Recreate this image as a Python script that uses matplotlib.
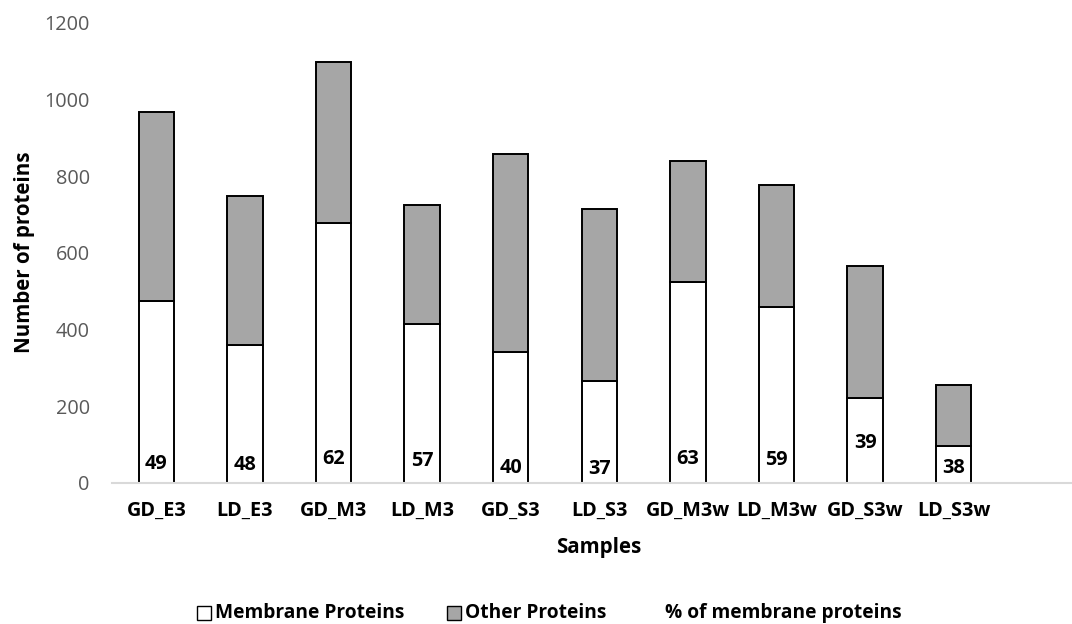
import matplotlib
matplotlib.use("Agg")
import matplotlib.pyplot as plt
from matplotlib.patches import Rectangle
import numpy as np

# Protein counts per sample
samples = ["GD_E3", "LD_E3", "GD_M3", "LD_M3", "GD_S3",
           "LD_S3", "GD_M3w", "LD_M3w", "GD_S3w", "LD_S3w"]
membrane = [474, 360, 679, 414, 341, 265, 525, 459, 223, 97]
other = [493, 388, 418, 312, 518, 450, 314, 318, 344, 158]
pct_membrane = [49, 48, 62, 57, 40, 37, 63, 59, 39, 38]
y_ticks = [0, 200, 400, 600, 800, 1000, 1200]

plt.rcParams["font.family"] = ["Open Sans", "DejaVu Sans"]
FS = 14.3

W, H = 1072, 624
fig = plt.figure(figsize=(W / 100, H / 100), dpi=100)

# plot area: 11 category slots, the last one left empty
slot = 88.6
left_px, base_px, top_px = 112, 483, 23
ax = fig.add_axes([left_px / W, 1 - base_px / H,
                   11 * slot / W, (base_px - top_px) / H])

x = np.arange(len(samples))
bw = 0.40
ax.bar(x, membrane, bw, color="white", edgecolor="black", linewidth=1.4,
       label="Membrane Proteins", zorder=2)
ax.bar(x, other, bw, bottom=membrane, color="#a6a6a6", edgecolor="black",
       linewidth=1.4, label="Other Proteins", zorder=2)

# percentage series: invisible points on the count axis, value labels only
ax.plot(x, pct_membrane, linestyle="none", marker=None)
label_shift = [0, 0, 0, 0, 0, 0, 0, 0, 18, 0]
for xi, p, s in zip(x, pct_membrane, label_shift):
    ax.annotate(f"{p}", (xi, p), xytext=(0, s), textcoords="offset points",
                ha="center", va="center", fontsize=FS, fontweight="bold",
                color="black", zorder=3)

ax.set_xlim(-0.5, 10.5)
ax.set_ylim(0, 1200)
ax.set_yticks(y_ticks)
ax.set_xticks(x)
ax.set_xticklabels(samples, fontsize=FS, fontweight="bold", color="black")
ax.tick_params(axis="y", length=0, pad=16, labelsize=FS, labelcolor="#595959")
ax.tick_params(axis="x", length=0, pad=13)
for side in ("top", "right", "left"):
    ax.spines[side].set_visible(False)
ax.spines["bottom"].set_color("#d9d9d9")
ax.spines["bottom"].set_linewidth(1.5)

fig.text(25 / W, 1 - 252 / H, "Number of proteins", rotation=90,
         ha="center", va="center", fontsize=14.8, fontweight="bold")
fig.text(599 / W, 1 - 548 / H, "Samples", ha="center", va="center",
         fontsize=14.8, fontweight="bold")

# legend row
leg_y = 613
sq = 14
entries = [(197, "white", "Membrane Proteins"),
           (447, "#a6a6a6", "Other Proteins"),
           (None, None, "% of membrane proteins")]
for mx, col, txt in entries:
    if mx is not None:
        fig.add_artist(Rectangle((mx / W, 1 - (leg_y + sq / 2) / H), sq / W, sq / H,
                                 facecolor=col, edgecolor="black", linewidth=1.0,
                                 transform=fig.transFigure))
        tx = mx + sq + 4
    else:
        tx = 665
    fig.text(tx / W, 1 - leg_y / H, txt, ha="left", va="center",
             fontsize=13.8, fontweight="bold")

fig.savefig("out.png", dpi=100)
